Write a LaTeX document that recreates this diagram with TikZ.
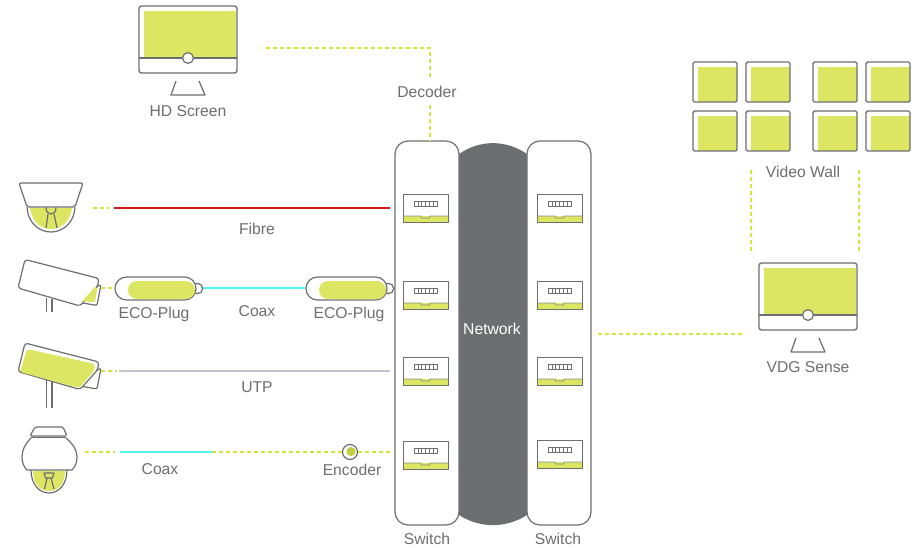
\documentclass[tikz,border=0pt]{standalone}
\usepackage{fontspec}
\setmainfont{Liberation Sans}
\definecolor{ink}{HTML}{6D6E71}
\definecolor{lime}{HTML}{DDE663}
\definecolor{dashlime}{HTML}{D4E43C}
\definecolor{redwire}{HTML}{D81818}
\definecolor{coax}{HTML}{55F5F0}
\definecolor{utp}{HTML}{C5C3D3}
\tikzset{
  x=1pt,y=-1pt,
  outline/.style={draw=ink,line width=1.2pt,line join=round},
  limefill/.style={fill=lime,draw=none},
  label/.style={text=ink,font=\fontsize{15.7}{18}\selectfont,inner sep=0pt},
  wire/.style={draw=dashlime,line width=1.6pt,dash pattern=on 4pt off 3pt},
  fibreline/.style={draw=redwire,line width=1.7pt},
  coaxline/.style={draw=coax,line width=1.8pt},
  utpline/.style={draw=utp,line width=1.3pt},
  monitor/.pic={
    \fill[limefill] (5,5) rectangle (97,52);
    \draw[outline,line width=1.4pt,rounded corners=2.5pt] (0,0) rectangle (98,67);
    \draw[outline] (0,52) -- (98,52);
    \draw[outline,fill=white] (49,52) circle (5.4);
    \draw[outline] (37,75) -- (32,89) -- (66,89) -- (60,75);
  },
  tile/.pic={
    \fill[limefill] (5,5) rectangle (44,40);
    \draw[outline,line width=1.4pt,rounded corners=1.5pt] (0,0) rectangle (44,40);
  },
  switchunit/.pic={
    \fill[limefill] (0,22) rectangle (45,28);
    \draw[outline,line width=1pt] (0,28.5) -- (0,0) -- (45,0) -- (45,28.5) -- cycle;
    \draw[draw=ink!80,line width=0.8pt] (0,22) -- (18,22) -- (18.5,24) -- (26.5,24) -- (27,22) -- (45,22);
    \draw[draw=ink,line width=0.8pt] (11,7) rectangle (34,12);
    \foreach \c in {14.8,18.6,22.4,26.2,30} \draw[draw=ink,line width=0.6pt] (\c,7) -- (\c,12);
  },
  plugbody/.pic={
    \draw[outline,fill=white] (82.5,11.5) circle (5.2);
    \draw[outline,fill=white,rounded corners=11.4pt] (0,0) rectangle (81,23);
    \fill[limefill,rounded corners=9pt] (13,4) rectangle (80,22);
  },
  bulletcam/.pic={
    \draw[outline,rounded corners=2pt,fill=white] (79,27) -- (83,25) -- (79,46) -- (62,43) -- cycle;
    \draw[outline,rounded corners=3pt,fill=white] (7,0) -- (81,19) -- (79.5,27) -- (62,46.5) -- (0,28.5) -- cycle;
  },
}
\begin{document}
\begin{tikzpicture}
\useasboundingbox (0,0) rectangle (922,547);

% network body
\fill[ink] (459,154) .. controls (480,139.5) and (506,139.5) .. (527,154) -- (527,515) .. controls (506,528.5) and (480,528.5) .. (459,515) -- cycle;
\draw[outline,fill=white,rounded corners=13pt] (395,141) rectangle (459,525);
\draw[outline,fill=white,rounded corners=13pt] (527,141) rectangle (591,525);
\coordinate (swtop) at (430,141);
\coordinate (netright) at (598,334);

% switch units
\foreach \y [count=\i] in {194,281,357,441} \pic (sl\i) at (403,\y) {switchunit};
\foreach \y [count=\i] in {194,281,357,440} \pic (sr\i) at (537,\y) {switchunit};

% HD screen
\pic (hd) at (139,6) {monitor};
\node[label] (hdlabel) at (188,111) {HD Screen};
% VDG
\pic (vdg) at (759,263) {monitor};
\node[label] (vdglabel) at (808,367) {VDG Sense};
% Video wall
\foreach \x [count=\i] in {693,746,813,866} {
  \pic (wa\i) at (\x,62) {tile};
  \pic (wb\i) at (\x,111) {tile};
}
\node[label] (walllabel) at (803,172) {Video Wall};

% camera 1 (dome)
\fill[limefill] (30,208) -- (72,208) .. controls (70,223) and (60,229) .. (51,229) .. controls (42,229) and (32,223) .. (30,208) -- cycle;
\draw[outline] (27,207) .. controls (28,224) and (40,232) .. (51,232) .. controls (62,232) and (74,224) .. (75,207);
\draw[outline,rounded corners=2pt,fill=white] (19,183) -- (83,183) -- (75,207) -- (27,207) -- cycle;
\draw[outline] (46,207) .. controls (46,212) and (48,214) .. (51,214) .. controls (54,214) and (56,212) .. (56,207);
\draw[outline] (48,214) -- (46,228) (54,214) -- (57,228);

% camera 2
\draw[outline] (46.5,298) -- (46.5,312) (52,299) -- (52,312);
\pic (cam2) at (18,259.5) {bulletcam};
\fill[limefill] (95.5,286.5) -- (97,289) -- (95,302) -- (82,301.5) -- cycle;

% camera 3
\draw[outline] (46.5,380) -- (46.5,408) (52,380) -- (52,408);
\pic (cam3) at (18,343) {bulletcam};
\fill[limefill,rounded corners=3pt] (27,349) -- (95,364) -- (95,370) -- (79,388) -- (20,372) -- cycle;

% camera 4 (PTZ)
\fill[limefill] (33,471) -- (65,471) .. controls (65,484) and (58,491) .. (49,491) .. controls (40,491) and (33,484) .. (33,471) -- cycle;
\draw[outline] (31,470) .. controls (31,484) and (39,493) .. (49,493) .. controls (59,493) and (67,484) .. (67,470);
\draw[outline,rounded corners=1.5pt] (35,427) -- (63,427) -- (67,436) -- (30,436) -- cycle;
\draw[outline] (31,437.5) -- (66,437.5);
\draw[outline] (31,438) .. controls (25,444) and (22,450) .. (22,457) .. controls (22,463) and (24,467) .. (27,470) -- (72,470) .. controls (75,467) and (77,463) .. (77,457) .. controls (77,450) and (73,444) .. (66,438);
\draw[outline] (44,473) -- (54,473) -- (52.5,478) -- (45.5,478) -- cycle;
\draw[outline] (47,478) -- (44.5,489) (51,478) -- (54,489);

% coordinates for connectors
\coordinate (c1a) at (93,208); \coordinate (c1b) at (109,208);
\coordinate (f1) at (114,208); \coordinate (f2) at (390,208);
\coordinate (c2a) at (101,288); \coordinate (c2b) at (115,288);
\coordinate (cx1) at (203,288); \coordinate (cx2) at (305,288);
\coordinate (c3a) at (101,371); \coordinate (c3b) at (117,371);
\coordinate (u1) at (119,371); \coordinate (u2) at (390,371);
\coordinate (c4a) at (85,452); \coordinate (c4b) at (115,452);
\coordinate (cy1) at (120,452); \coordinate (cy2) at (212,452);
\coordinate (sw4) at (390,452);
\coordinate (hda) at (266,48); \coordinate (hdb) at (430,48); \coordinate (hdc) at (430,80);
\coordinate (decb) at (430,105);
\coordinate (vdgin) at (742,334);
\coordinate (wla) at (751,170); \coordinate (wlb) at (751,252);
\coordinate (wra) at (859,170); \coordinate (wrb) at (859,252);

\draw[wire] (c1a) -- (c1b);
\draw[fibreline] (f1) -- (f2);
\draw[wire] (c2a) -- (c2b);
\draw[coaxline] (cx1) -- (cx2);
\draw[wire] (c3a) -- (c3b);
\draw[utpline] (u1) -- (u2);
\draw[wire] (c4a) -- (c4b);
\draw[coaxline] (cy1) -- (cy2);
\draw[wire] (hda) -- (hdb) -- (hdc);
\draw[wire] (decb) -- (swtop);
\draw[wire] (netright) -- (vdgin);
\draw[wire] (wla) -- (wlb);
\draw[wire] (wra) -- (wrb);

% ECO plugs
\pic (plug1) at (115,277) {plugbody};
\pic (plug2) at (306,277) {plugbody};

% encoder
\node[circle,draw=ink,line width=1.2pt,fill=white,minimum size=15pt,inner sep=0pt] (enc) at (350,452) {};
\fill[fill=lime!40!dashlime!90!black] (351,451.5) circle (4.6);
\draw[wire] (cy2) -- (enc);
\draw[wire] (enc) -- (sw4);

% labels
\node[label] (lfibre) at (257,229) {Fibre};
\node[label] (lcoaxa) at (257,311) {Coax};
\node[label] (lecoa) at (154,314) {ECO-Plug};
\node[label] (lecob) at (349,314) {ECO-Plug};
\node[label] (lutp) at (257,387) {UTP};
\node[label] (lcoaxb) at (160,469) {Coax};
\node[label] (lenc) at (352,470) {Encoder};
\node[label] (ldec) at (427,92) {Decoder};
\node[label,text=white] (lnet) at (492,329) {Network};
\node[label] (lsw1) at (427,539) {Switch};
\node[label] (lsw2) at (558,539) {Switch};
\end{tikzpicture}
\end{document}
